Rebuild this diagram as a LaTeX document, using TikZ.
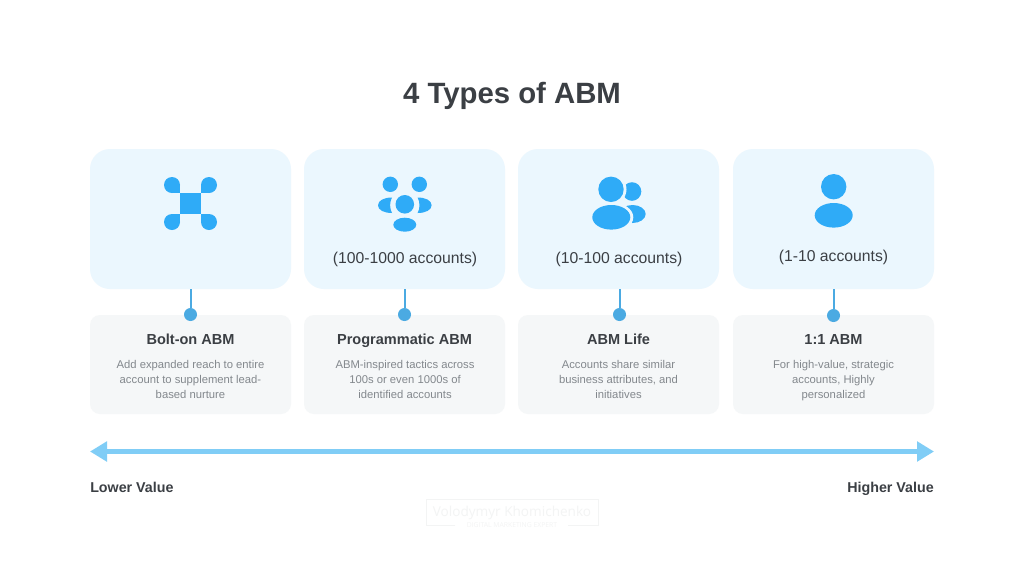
\documentclass[tikz,border=0pt]{standalone}
\usepackage{fontspec}
\setmainfont{Liberation Sans}
\newfontfamily\markfont{Open Sans}
\usetikzlibrary{arrows.meta}
\definecolor{topfill}{HTML}{EBF7FE}
\definecolor{lowfill}{HTML}{F5F7F8}
\definecolor{iconblue}{HTML}{2FABF7}
\definecolor{stemblue}{HTML}{4BAAE2}
\definecolor{barblue}{HTML}{80CDF6}
\definecolor{inkdark}{HTML}{3B3F44}
\definecolor{inkgrey}{HTML}{83888D}
\definecolor{markgrey}{HTML}{F3F4F4}
\tikzset{
  x=0.75pt, y=-0.75pt,
  topcard/.style={fill=topfill, draw=none, rounded corners=15pt, minimum width=150.75pt, minimum height=105pt, inner sep=0pt},
  lowcard/.style={fill=lowfill, draw=none, rounded corners=7.5pt, minimum width=150.75pt, minimum height=74.25pt, inner sep=0pt},
  stemdot/.style={circle, fill=stemblue, draw=none, minimum size=9.75pt, inner sep=0pt},
  stem/.style={draw=stemblue, line width=1.5pt},
  scope label/.style={text=inkdark, font=\fontsize{11.8}{14}\selectfont, anchor=base, inner sep=0pt},
  head label/.style={text=inkdark, font=\fontsize{10.9}{14}\selectfont\bfseries, anchor=base, inner sep=0pt},
  desc label/.style={text=inkgrey, font=\fontsize{8.45}{11.25}\selectfont, align=center, inner sep=0pt},
  end label/.style={text=inkdark, font=\fontsize{10.7}{13}\selectfont\bfseries, anchor=base, inner sep=0pt},
  value bar/.style={draw=barblue, line width=3.75pt, {Triangle[length=12.75pt,width=14.5pt]}-{Triangle[length=12.75pt,width=14.5pt]}, shorten >=0pt, shorten <=0pt},
}
\begin{document}
\begin{tikzpicture}
\useasboundingbox (0,0) rectangle (1024,576);
\fill[white] (0,0) rectangle (1024,576);

% title
\node[text=inkdark, font=\fontsize{22}{27}\selectfont\bfseries, anchor=base, inner sep=0pt] (title) at (512,103.5) {4 Types of ABM};

% upper cards
\node[topcard] (top1) at (190.5,219) {};
\node[topcard] (top2) at (404.5,219) {};
\node[topcard] (top3) at (618.5,219) {};
\node[topcard] (top4) at (833.5,219) {};

% lower cards
\node[lowcard] (low1) at (190.5,364.5) {};
\node[lowcard] (low2) at (404.5,364.5) {};
\node[lowcard] (low3) at (618.5,364.5) {};
\node[lowcard] (low4) at (833.5,364.5) {};

% stems and dots joining each pair of cards
\node[stemdot] (dot1) at (190.5,314.5) {};
\node[stemdot] (dot2) at (404.5,314.5) {};
\node[stemdot] (dot3) at (619.5,314.5) {};
\node[stemdot] (dot4) at (833.5,315.5) {};
\draw[stem] (top1.south) -- (dot1);
\draw[stem] (top2.south) -- (dot2);
\draw[stem] (dot3 |- top3.south) -- (dot3);
\draw[stem] (top4.south) -- (dot4);

% icon: square with four petals
\fill[iconblue] (180,193) rectangle (201,214);
\fill[iconblue] (172,185) circle[radius=8];
\fill[iconblue] (172,185) rectangle (180,193);
\fill[iconblue] (209,185) circle[radius=8];
\fill[iconblue] (201,185) rectangle (209,193);
\fill[iconblue] (172,222) circle[radius=8];
\fill[iconblue] (172,214) rectangle (180,222);
\fill[iconblue] (209,222) circle[radius=8];
\fill[iconblue] (201,214) rectangle (209,222);

% icon: group around a central figure
\fill[iconblue] (390.3,184.3) circle[radius=7.7];
\fill[iconblue] (419.3,184.3) circle[radius=7.7];
\fill[iconblue] (404.8,204.3) circle[radius=9.3];
\fill[iconblue] (404.8,224.7) ellipse[x radius=11.5, y radius=7];
\fill[iconblue] (392,197.5) .. controls (384,197.5) and (378,200.5) .. (378,205.3) .. controls (378,210) and (384,213) .. (392,213) .. controls (389.5,208.5) and (389.5,202) .. (392,197.5) -- cycle;
\fill[iconblue] (417.6,197.5) .. controls (425.6,197.5) and (431.6,200.5) .. (431.6,205.3) .. controls (431.6,210) and (425.6,213) .. (417.6,213) .. controls (420.1,208.5) and (420.1,202) .. (417.6,197.5) -- cycle;

% icon: two overlapping figures
\fill[iconblue] (632,191.5) circle[radius=9.3];
\fill[iconblue] (632.5,214) ellipse[x radius=13.2, y radius=9];
\fill[topfill] (611,189.3) circle[radius=15.5];
\fill[topfill] (611.3,217.3) ellipse[x radius=22, y radius=15];
\fill[iconblue] (611,189.3) circle[radius=12.7];
\fill[iconblue] (611.3,217.3) ellipse[x radius=19, y radius=12.3];

% icon: single figure
\fill[iconblue] (833.7,186.7) circle[radius=12.7];
\fill[iconblue] (833.7,215.3) ellipse[x radius=19, y radius=12.3];

% account ranges
\node[scope label] (range2) at (405,263) {(100-1000 accounts)};
\node[scope label] (range3) at (619,263) {(10-100 accounts)};
\node[scope label] (range4) at (833.5,261) {(1-10 accounts)};

% lower card headings
\node[head label] (head1) at (190.5,344) {Bolt-on ABM};
\node[head label] (head2) at (404.5,344) {Programmatic ABM};
\node[head label] (head3) at (618.5,344) {ABM Life};
\node[head label] (head4) at (833.5,344) {1:1 ABM};

% lower card descriptions
\node[desc label] (desc1) at (190.5,379) {Add expanded reach to entire\\account to supplement lead-\\based nurture};
\node[desc label] (desc2) at (405,379) {ABM-inspired tactics across\\100s or even 1000s of\\identified accounts};
\node[desc label] (desc3) at (618.5,379) {Accounts share similar\\business attributes, and\\initiatives};
\node[desc label] (desc4) at (833.5,381) {For high-value, strategic\\accounts, Highly\\personalized};

% value scale
\coordinate (scaleL) at (90,451.5);
\coordinate (scaleR) at (934,451.5);
\draw[value bar] (scaleL) -- (scaleR);
\node[end label, anchor=base west] (lower) at (90,492) {Lower Value};
\node[end label, anchor=base east] (higher) at (934,492) {Higher Value};

% signature mark
\draw[markgrey, line width=0.75pt] (455,525.5) -- (426,525.5) -- (426,499) -- (598,499) -- (598,525.5) -- (568,525.5);
\node[text=markgrey, font=\markfont\fontsize{10.2}{13}\selectfont, anchor=base, inner sep=0pt] (markname) at (512,516) {Volodymyr Khomichenko};
\node[text=markgrey, font=\markfont\fontsize{5.1}{6}\selectfont, anchor=base, inner sep=0pt] (marksub) at (512,527) {DIGITAL MARKETING EXPERT};
\end{tikzpicture}
\end{document}
